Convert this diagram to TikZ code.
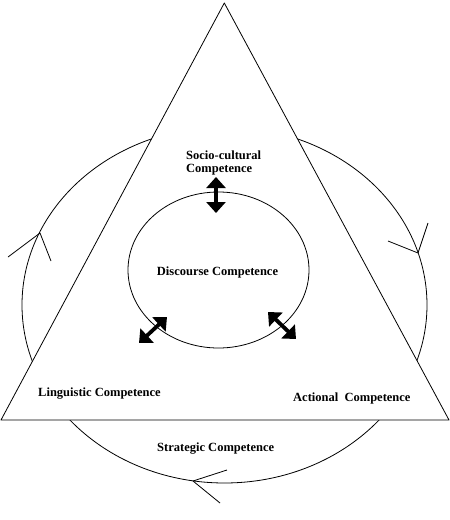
\documentclass[tikz,border=0pt]{standalone}
\usepackage{fontspec}
\setmainfont{Liberation Serif}
\usetikzlibrary{arrows.meta}
\tikzset{
  thinline/.style={line width=0.8pt, line join=round},
  lbl/.style={font=\bfseries\fontsize{12.5}{13}\selectfont, inner sep=0pt},
  dbl/.style={line width=3.8pt, {Triangle[width=19pt,length=11pt]}-{Triangle[width=19pt,length=11pt]}},
}
\begin{document}
\begin{tikzpicture}[x=1pt,y=-1pt]
\useasboundingbox (0,0) rectangle (450,520);
% big ellipse (cycle)
\draw[thinline] (224.5,305) ellipse [x radius=202.5, y radius=178];
% triangle
\coordinate (T) at (224.3,3);
\coordinate (L) at (1,420);
\coordinate (R) at (449,420);
\fill[white] (T) -- (L) -- (R) -- cycle;
\draw[thinline] (T) -- (L) -- (R) -- cycle;
% open arrowheads on big cycle
\coordinate (tl) at (40,233);
\coordinate (tl1) at (8,257);
\coordinate (tl2) at (51,261);
\draw[thinline] (tl1) -- (tl) -- (tl2);
\coordinate (tr) at (418,253);
\coordinate (tr1) at (388,241);
\coordinate (tr2) at (428,223);
\draw[thinline] (tr1) -- (tr) -- (tr2);
\coordinate (tb) at (193,481);
\coordinate (tb1) at (227,470);
\coordinate (tb2) at (220,503);
\draw[thinline] (tb1) -- (tb) -- (tb2);
% inner circle
\draw[thinline] (218.5,270) ellipse [x radius=90.5, y radius=78];
% double arrows
\coordinate (a1) at (216,177);
\coordinate (a2) at (216,213);
\draw[dbl] (a1) -- (a2);
\coordinate (b1) at (139,343);
\coordinate (b2) at (167,317);
\draw[dbl] (b1) -- (b2);
\coordinate (c1) at (268,312);
\coordinate (c2) at (296,339);
\draw[dbl] (c1) -- (c2);
% labels
\node[lbl, anchor=west, align=left] (soc) at (186,163) {Socio-cultural\\Competence};
\node[lbl] (dis) at (217.5,272) {Discourse Competence};
\node[lbl, anchor=west] (lin) at (38,394) {Linguistic Competence};
\node[lbl, anchor=west] (act) at (293,398) {Actional\ \ Competence};
\node[lbl, anchor=west] (str) at (157,449) {Strategic Competence};
\end{tikzpicture}
\end{document}
